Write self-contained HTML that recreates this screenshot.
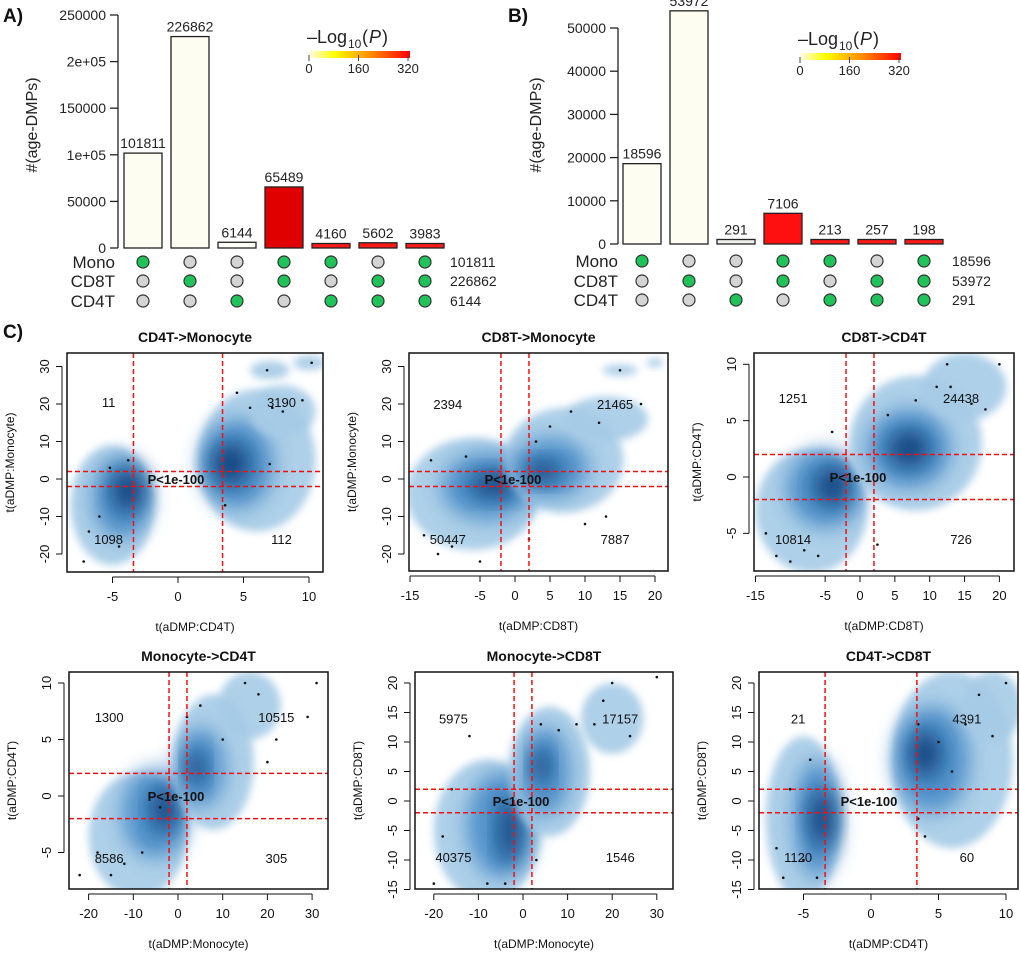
<!DOCTYPE html>
<html><head><meta charset="utf-8">
<style>
html,body{margin:0;padding:0;background:#fff;}
svg{display:block;font-family:"Liberation Sans",Arial,sans-serif;}
</style></head>
<body>
<svg id="fig" width="1020" height="957" viewBox="0 0 1020 957" xmlns="http://www.w3.org/2000/svg">
<defs>
<linearGradient id="pgrad" x1="0" x2="1" y1="0" y2="0">
<stop offset="0" stop-color="#fffbe8"/><stop offset="0.25" stop-color="#ffff00"/><stop offset="0.6" stop-color="#ff9000"/><stop offset="1" stop-color="#ff0000"/>
</linearGradient>
<filter id="blur4" x="-50%" y="-50%" width="200%" height="200%"><feGaussianBlur stdDeviation="4"/></filter>
<filter id="blur10" x="-50%" y="-50%" width="200%" height="200%"><feGaussianBlur stdDeviation="10"/></filter>
</defs>
<g id="root"></g>
</svg>
<script>
// ---- Bar chart data ----
const barValsA = [101811, 226862, 6144, 65489, 4160, 5602, 3983];
const barValsB = [18596, 53972, 291, 7106, 213, 257, 198];
const barColsA = ["#fdfdf2","#fdfdf2","#fefef9","#e00000","#ff1a1a","#ff1a1a","#ff1a1a"];
const barColsB = ["#fdfdf2","#fdfdf2","#f0f0ec","#ff1010","#ff1a1a","#ff1a1a","#ff1a1a"];
const setNames = ["Mono","CD8T","CD4T"];
const setTotalsA = [101811, 226862, 6144];
const setTotalsB = [18596, 53972, 291];
const membership = [[1,0,0,1,1,0,1],[0,1,0,1,0,1,1],[0,0,1,0,1,1,1]];
const ticksA = [0,50000,100000,150000,200000,250000];
const tickLabA = ["0","50000","1e+05","150000","2e+05","250000"];
const ticksB = [0,10000,20000,30000,40000,50000];
const tickLabB = ["0","10000","20000","30000","40000","50000"];

const NS="http://www.w3.org/2000/svg";
const root=document.getElementById('root');
function mk(tag,attrs,parent,text){const e=document.createElementNS(NS,tag);for(const k in attrs)e.setAttribute(k,attrs[k]);if(text!==undefined)e.textContent=text;(parent||root).appendChild(e);return e;}

function barPanel(o){
  const g=mk('g',{});
  
  
  const y=v=>o.y0-(v/o.vmax)*(o.y0-o.yTop);
  const ax=mk('line',{x1:o.axX,x2:o.axX,y1:o.y0,y2:y(o.ticks[o.ticks.length-1]),stroke:'#222','stroke-width':1.3},g);
  
  o.ticks.forEach((t,i)=>{
    mk('line',{x1:o.axX-8,x2:o.axX,y1:y(t),y2:y(t),stroke:'#222','stroke-width':1.3},g);
    const tl=mk('text',{x:o.axX-12,y:y(t)+5,'text-anchor':'end','font-size':14,fill:'#222'},g,o.tickLab[i]);
    
  });
  const yl=mk('text',{x:0,y:0,'text-anchor':'middle','font-size':16,fill:'#222',transform:`translate(${o.ylabX},125) rotate(-90)`},g,'#(age-DMPs)');
  
  o.vals.forEach((v,i)=>{
    const x=o.x0+i*o.step;
    const top=Math.min(y(v),o.y0-4.5);
    const r=mk('rect',{x:x,y:top,width:o.bw,height:o.y0-top,fill:o.cols[i],stroke:'#222','stroke-width':1.3},g);
    
    const t=mk('text',{x:x+o.bw/2,y:top-5,'text-anchor':'middle','font-size':14,fill:'#222'},g,String(v));
    
    for(let s=0;s<3;s++){
      const c=mk('circle',{cx:x+o.bw/2,cy:o.rowY[s],r:6,fill:membership[s][i]?'#1fc35a':'#d4d4d4',stroke:'#333','stroke-width':1.2},g);
      
    }
  });
  for(let s=0;s<3;s++){
    const n=mk('text',{x:o.setX,y:o.rowY[s]+6,'text-anchor':'end','font-size':17,fill:'#222'},g,setNames[s]);
    
    const tt=mk('text',{x:o.totX,y:o.rowY[s]+5,'font-size':14,fill:'#222'},g,String(o.totals[s]));
    
  }
  const lg=mk('g',{},g);
  
  mk('text',{x:o.legX-2,y:o.legY-8,'font-size':18,fill:'#222'},lg,'\u2013Log');
  mk('text',{x:o.legX+39,y:o.legY-3,'font-size':12,fill:'#222'},lg,'10');
  mk('text',{x:o.legX+53,y:o.legY-8,'font-size':18,fill:'#222'},lg,'(');
  mk('text',{x:o.legX+60,y:o.legY-8,'font-size':18,fill:'#222','font-style':'italic'},lg,'P');
  mk('text',{x:o.legX+73,y:o.legY-8,'font-size':18,fill:'#222'},lg,')');
  mk('rect',{x:o.legX,y:o.legY,width:101,height:7,fill:'url(#pgrad)'},lg);
  ["0","160","320"].forEach((l,i)=>{
    mk('line',{x1:o.legX+i*49.5,x2:o.legX+i*49.5,y1:o.legY+4,y2:o.legY+10,stroke:'#444'},lg);
    mk('text',{x:o.legX+i*49.5,y:o.legY+22,'text-anchor':'middle','font-size':13,fill:'#222'},lg,l);
  });
  const pl=mk('text',{x:o.plX,y:o.plY,'font-size':19,'font-weight':'bold',fill:'#111'},g,o.panel);
  
}
barPanel({name:'upset-chart-a',panel:'A)',plX:3,plY:22,vals:barValsA,cols:barColsA,vmax:250000,y0:248,yTop:15,axX:118,
  ticks:ticksA,tickLab:tickLabA,ylabX:37,x0:124,step:47,bw:38,rowY:[262,281,301],setX:115,totX:450,totals:setTotalsA,legX:309,legY:51});
barPanel({name:'upset-chart-b',panel:'B)',plX:508,plY:22,vals:barValsB,cols:barColsB,vmax:50000,y0:244,yTop:28,axX:618,
  ticks:ticksB,tickLab:tickLabB,ylabX:541,x0:623,step:47,bw:38,rowY:[261,281,300],setX:618,totX:952,totals:setTotalsB,legX:800,legY:53});
mk('text',{x:3,y:338,'font-size':19,'font-weight':'bold',fill:'#111'},root,'C)');

// ---- Scatter panels ----
const titles=["CD4T->Monocyte","CD8T->Monocyte","CD8T->CD4T","Monocyte->CD4T","Monocyte->CD8T","CD4T->CD8T"];
const xLabels=["t(aDMP:CD4T)","t(aDMP:CD8T)","t(aDMP:CD8T)","t(aDMP:Monocyte)","t(aDMP:Monocyte)","t(aDMP:CD4T)"];
const yLabels=["t(aDMP:Monocyte)","t(aDMP:Monocyte)","t(aDMP:CD4T)","t(aDMP:CD4T)","t(aDMP:CD8T)","t(aDMP:CD8T)"];
const quadCounts=[[11,3190,1098,112],[2394,21465,50447,7887],[1251,24438,10814,726],[1300,10515,8586,305],[5975,17157,40375,1546],[21,4391,1120,60]];
const quadPosX=[[-5.3,7.9],[-9.6,14.3],[-9.6,14.5],[-15.4,22],[-15.6,21.8],[-5.4,7.1]];
const quadPosY=[[20.5,-16],[20,-16],[7,-5.5],[7,-5.5],[14,-9.5],[14,-9.5]];
const xTicks=[[-5,0,5,10],[-15,-5,0,5,10,15,20],[-15,-5,0,5,10,15,20],[-20,-10,0,10,20,30],[-20,-10,0,10,20,30],[-5,0,5,10]];
const yTicks=[[-20,-10,0,10,20,30],[-20,-10,0,10,20,30],[-5,0,5,10],[-5,0,5,10],[-15,-10,-5,0,5,10,15,20],[-15,-10,-5,0,5,10,15,20]];
const vCut=[3.4,2,2,2,2,3.4];
const hCut=[2,2,2,2,2,2];
// density blobs: [cx, cy, rx, ry, level]
const blobs=[
 [[-5,-7,3.2,16,1],[-4.3,-5,2.2,11,2],[-3.8,-3,1.3,6,3],[6,5,4.5,19,1],[4.5,4,2.8,12,2],[4,4,1.5,6,3],[8,18,2.5,7,1],[7,29,1.5,2.5,1],[10,31,1.2,2,1]],
 [[-6,-4,9.5,15,1],[-4,-2,6.5,9,2],[-3,-1.5,3.5,3.5,3],[7,5,8.5,14,1],[5,3,5.5,8,2],[4,2,2.5,3,3],[13,16,6,6,1],[15,29,2.5,1.5,1],[20,31,1.2,1.2,1]],
 [[-7,-3,8,5.5,1],[-5,-1,5.5,3.5,2],[-4,-0.8,2.5,1.8,3],[8,3,9.5,6,1],[7,2.5,6,3.5,2],[7,2.5,3,1.7,3],[15,8,6,3,1]],
 [[-9,-3.5,11,5.5,1],[-5,-1.5,7.5,4,2],[-3,-1.2,3,2,3],[8,3,9,6,1],[5,2.5,5.5,3.5,2],[4,2.5,2,1.6,3],[16,8,7,3,1]],
 [[-8,-5,12,12,1],[-5,-4,7.5,9,2],[-3,-5,2.5,5.5,3],[6,5,9,11,1],[5,5,5.5,7.5,2],[4,6,2,3,3],[20,14,7,6,1]],
 [[-5,-3,2.8,14,1],[-4,-3,1.7,10,2],[-3.6,-3,1,5,3],[6,7,4.5,15,1],[4.5,7,2.8,9,2],[4,8,1.2,4,3],[9,16,2.2,6,1]]
];
// outlier points
const ptsX=[[-7.2,-6.8,-6,-5.2,-4.5,-3.8,4.5,5.5,6.8,7.2,8,9.5,7,3.6,10.2],[-13,-11,-9,-7,-5,3,5,8,12,13,15,18,10,-12,2],[-13.5,-12,-10,-8,-6,-4,4,8,11,12.5,13,16,18,20,2.5],[-22,-18,-15,-12,-8,-4,2,5,10,15,18,20,22,29,31],[-20,-16,-12,-8,-4,4,8,12,16,18,20,24,30,-18,3],[-7,-6.5,-6,-5,-4.5,-4,3.5,4,5,6,7,8,9,10,3.5]];
const ptsY=[[-22,-14,-10,3,-18,5,23,19,29,19,18,21,4,-7,31],[-15,-20,-18,6,-22,10,14,18,15,-10,29,20,-12,5,-16],[-5,-7,-7.5,-6.5,-7,4,5.5,6.8,8,10,8,6.5,6,10,-6],[-7,-5,-7,-6,-5,-1,7,8,5,10,9,3,5,7,10],[-14,2,11,-14,-14,13,12,13,13,17,20,11,21,-6,-10],[-8,-13,2,-10,7,-13,13,-6,10,5,13,18,11,20,-3]];
const boxes=[[67,353,323,572],[409,353,668,571],[754,353,1014,571],[69,672,328,889],[415,672,673,889],[759,672,1018,889]];
const xMaps=[[178,13.1],[515,7.0],[860,6.97],[178,4.47],[523,4.46],[871,13.5]];
const yMaps=[[479,3.75],[479,3.75],[477,11.27],[796,11.3],[801,5.9],[801,5.9]];
const blobCols=["","#a6cbe6","#3a82c2","#0a3f7a"];
const blobOp=[0,0.9,0.8,0.9];

function scatter(k){
  const [bx0,by0,bx1,by1]=boxes[k];
  const X=v=>xMaps[k][0]+xMaps[k][1]*v, Y=v=>yMaps[k][0]-yMaps[k][1]*v;
  const g=mk('g',{});
  
  
  const cp=mk('clipPath',{id:'cp'+k},g);mk('rect',{x:bx0,y:by0,width:bx1-bx0,height:by1-by0},cp);
  const dg=mk('g',{'clip-path':`url(#cp${k})`},g);
  const ig=mk('g',{},dg);
  blobs[k].forEach(b=>{
    const e=mk('ellipse',{cx:X(b[0]),cy:Y(b[1]),rx:Math.abs(xMaps[k][1]*b[2]),ry:Math.abs(yMaps[k][1]*b[3]),fill:blobCols[b[4]],opacity:blobOp[b[4]],filter:b[4]===1?'url(#blur4)':'url(#blur10)'},ig);
    
  });
  ptsX[k].forEach((px,i)=>{
    const c=mk('circle',{cx:X(px),cy:Y(ptsY[k][i]),r:1.3,fill:'#111'},dg);
    
  });
  [-vCut[k],vCut[k]].forEach(v=>{const l=mk('line',{x1:X(v),x2:X(v),y1:by0,y2:by1,stroke:'#ee1111','stroke-width':1.5,'stroke-dasharray':'5,3'},dg);});
  [-hCut[k],hCut[k]].forEach(v=>{const l=mk('line',{x1:bx0,x2:bx1,y1:Y(v),y2:Y(v),stroke:'#ee1111','stroke-width':1.5,'stroke-dasharray':'5,3'},dg);});
  const q=quadCounts[k];
  [[0,0],[1,0],[0,1],[1,1]].forEach(([ix,iy],j)=>{
    const t=mk('text',{x:X(quadPosX[k][ix]),y:Y(quadPosY[k][iy])+5,'text-anchor':'middle','font-size':13,fill:'#111'},g,String(q[j]));
    
  });
  const p=mk('text',{x:X(0)-2,y:Y(0)+5,'text-anchor':'middle','font-size':13,'font-weight':'bold',fill:'#111'},g,'P<1e-100');
  
  const fr=mk('rect',{x:bx0,y:by0,width:bx1-bx0,height:by1-by0,fill:'none',stroke:'#111','stroke-width':1.5},g);
  
  const xt=xTicks[k];
  mk('line',{x1:X(xt[0]),x2:X(xt[xt.length-1]),y1:by1+5,y2:by1+5,stroke:'#111'},g);
  xt.forEach(v=>{mk('line',{x1:X(v),x2:X(v),y1:by1+5,y2:by1+11,stroke:'#111'},g);
    const t=mk('text',{x:X(v),y:by1+29,'text-anchor':'middle','font-size':13,fill:'#111'},g,String(v));});
  const yt=yTicks[k];
  mk('line',{x1:bx0-5,x2:bx0-5,y1:Y(yt[0]),y2:Y(yt[yt.length-1]),stroke:'#111'},g);
  yt.forEach(v=>{mk('line',{x1:bx0-11,x2:bx0-5,y1:Y(v),y2:Y(v),stroke:'#111'},g);
    const t=mk('text',{x:0,y:0,'text-anchor':'middle','font-size':13,fill:'#111',transform:`translate(${bx0-18},${Y(v)}) rotate(-90)`},g,String(v));});
  const tt=mk('text',{x:(bx0+bx1)/2,y:by0-11,'text-anchor':'middle','font-size':14,'font-weight':'bold',fill:'#111'},g,titles[k]);
  
  const xl=mk('text',{x:(bx0+bx1)/2,y:by1+59,'text-anchor':'middle','font-size':12,fill:'#111'},g,xLabels[k]);
  
  const yl=mk('text',{x:0,y:0,'text-anchor':'middle','font-size':12,fill:'#111',transform:`translate(${bx0-53},${(by0+by1)/2}) rotate(-90)`},g,yLabels[k]);
  
}
for(let k=0;k<6;k++)scatter(k);
</script>
</body></html>
